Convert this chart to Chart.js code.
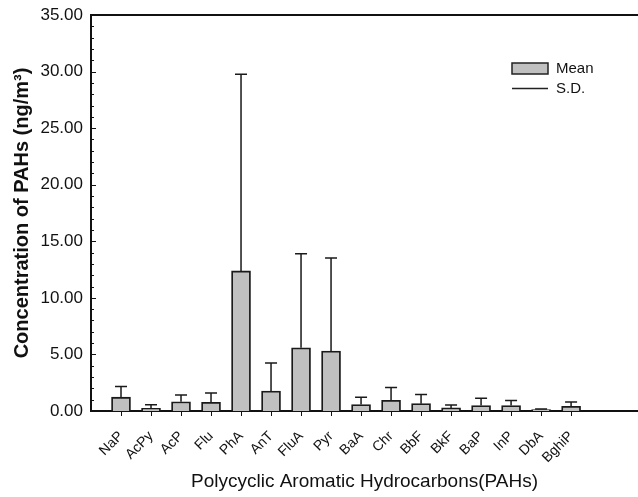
<!DOCTYPE html>
<html>
<head>
<meta charset="utf-8">
<script src="https://cdn.jsdelivr.net/npm/chart.js@4.4.1/dist/chart.umd.min.js"></script>
<style>
  html, body { margin: 0; padding: 0; background: #fff; overflow: hidden; }
  #wrap { width: 638px; height: 497px; }
</style>
</head>
<body>
<div id="wrap"><canvas id="pahChart"></canvas></div>
<script>
const categories = ['NaP', 'AcPy', 'AcP', 'Flu', 'PhA', 'AnT', 'FluA', 'Pyr', 'BaA', 'Chr', 'BbF', 'BkF', 'BaP', 'InP', 'DbA', 'BghiP'];
const meanValues = [1.22, 0.24, 0.82, 0.77, 12.38, 1.77, 5.58, 5.30, 0.57, 0.95, 0.65, 0.27, 0.48, 0.48, 0.12, 0.41];
const sdValues = [0.95, 0.32, 0.60, 0.82, 17.38, 2.47, 8.32, 8.22, 0.64, 1.12, 0.80, 0.26, 0.64, 0.44, 0.06, 0.39];
const yTicks = [0, 5, 10, 15, 20, 25, 30, 35];

const FONT = "'Liberation Sans', Arial, sans-serif";

// error bars (upward only) + frame details
const extras = {
  id: 'extras',
  afterDatasetsDraw(chart) {
    const ctx = chart.ctx;
    const y = chart.scales.y;
    const meta = chart.getDatasetMeta(0);
    ctx.save();
    ctx.strokeStyle = '#1a1a1a';
    ctx.lineWidth = 1.5;
    meta.data.forEach((bar, i) => {
      const top = y.getPixelForValue(meanValues[i] + sdValues[i]);
      ctx.beginPath();
      ctx.moveTo(bar.x, bar.y);
      ctx.lineTo(bar.x, top);
      ctx.moveTo(bar.x - 6, top);
      ctx.lineTo(bar.x + 6, top);
      ctx.stroke();
    });
    ctx.restore();
  },
  afterDraw(chart) {
    const ctx = chart.ctx;
    const area = chart.chartArea;
    const y = chart.scales.y;
    const x = chart.scales.x;
    ctx.save();
    ctx.strokeStyle = '#111';
    // top frame line
    ctx.lineWidth = 2;
    ctx.beginPath();
    ctx.moveTo(area.left - 1, area.top);
    ctx.lineTo(area.right, area.top);
    ctx.stroke();
    // inward y ticks, major and minor
    ctx.lineWidth = 1;
    for (let v = 0; v <= 35; v += 1) {
      const py = Math.round(y.getPixelForValue(v)) + 0.5;
      const len = v % 5 === 0 ? 5 : 3;
      ctx.beginPath();
      ctx.moveTo(area.left, py);
      ctx.lineTo(area.left + len, py);
      ctx.stroke();
    }
    // outward x ticks
    categories.forEach((c, i) => {
      const px = Math.round(x.getPixelForValue(i + 1)) + 0.5;
      ctx.beginPath();
      ctx.moveTo(px, area.bottom);
      ctx.lineTo(px, area.bottom + 5);
      ctx.stroke();
    });
    // legend
    const lx = 512, ly = 63;
    ctx.fillStyle = '#c0c0c0';
    ctx.fillRect(lx, ly, 36, 11);
    ctx.lineWidth = 1.5;
    ctx.strokeStyle = '#222';
    ctx.strokeRect(lx, ly, 36, 11);
    ctx.beginPath();
    ctx.moveTo(lx, ly + 25.5);
    ctx.lineTo(lx + 36, ly + 25.5);
    ctx.stroke();
    ctx.fillStyle = '#111';
    ctx.font = '15px ' + FONT;
    ctx.textBaseline = 'middle';
    ctx.textAlign = 'left';
    ctx.fillText('Mean', lx + 44, ly + 6);
    ctx.fillText('S.D.', lx + 44, ly + 26);
    ctx.restore();
  }
};

new Chart(document.getElementById('pahChart'), {
  type: 'bar',
  data: {
    datasets: [{
      label: 'Mean',
      data: categories.map((c, i) => ({ x: i + 1, y: meanValues[i] })),
      backgroundColor: '#c0c0c0',
      borderColor: '#1a1a1a',
      borderWidth: 1.8,
      borderSkipped: 'bottom',
      barThickness: 19
    }]
  },
  options: {
    responsive: true,
    maintainAspectRatio: false,
    animation: false,
    layout: { padding: { top: 15, right: 0, left: 0, bottom: 0 } },
    plugins: {
      legend: { display: false },
      tooltip: { enabled: false }
    },
    scales: {
      x: {
        type: 'linear',
        offset: false,
        min: 0,
        max: 18.23,
        grid: { display: false },
        border: { display: true, color: '#111', width: 2 },
        afterBuildTicks: (scale) => {
          scale.ticks = categories.map((c, i) => ({ value: i + 1 }));
        },
        afterFit: (scale) => { scale.height = 86; },
        ticks: {
          autoSkip: false,
          minRotation: 45,
          maxRotation: 45,
          padding: 9,
          color: '#111',
          font: { family: FONT, size: 14 },
          callback: (v) => categories[v - 1]
        },
        title: {
          display: true,
          text: 'Polycyclic Aromatic Hydrocarbons(PAHs)',
          color: '#111',
          font: { family: FONT, size: 19 },
          padding: { top: 4, bottom: 4 }
        }
      },
      y: {
        min: 0,
        max: 35,
        grid: { display: false },
        border: { display: true, color: '#111', width: 2 },
        afterBuildTicks: (scale) => {
          scale.ticks = yTicks.map(v => ({ value: v }));
        },
        afterFit: (scale) => { scale.width = 91; },
        ticks: {
          padding: 0,
          color: '#111',
          font: { family: FONT, size: 17 },
          callback: (v) => v.toFixed(2)
        },
        title: {
          display: true,
          text: 'Concentration of PAHs (ng/m\u00b3)',
          color: '#111',
          font: { family: FONT, size: 20, weight: 'bold' },
          padding: { top: 10, bottom: 4 }
        }
      }
    }
  },
  plugins: [extras]
});
</script>
</body>
</html>
